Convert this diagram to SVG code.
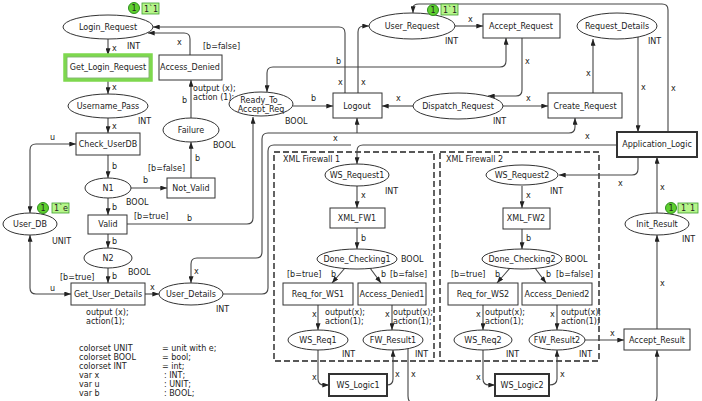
<svg xmlns="http://www.w3.org/2000/svg" width="702" height="401" viewBox="0 0 702 401">
<style>
text{font-family:"DejaVu Sans","Liberation Sans",sans-serif;font-size:8px;fill:#222}
.n{text-anchor:middle}
.pl,.tr{fill:#fff;stroke:#333;stroke-width:1}
.thick{stroke-width:2}
.a{fill:none;stroke:#444;stroke-width:1.1;marker-end:url(#ah)}
.d{fill:none;stroke:#444;stroke-width:1.1;marker-end:url(#ah);marker-start:url(#as)}
.l{fill:none;stroke:#444;stroke-width:1.1}
.box{fill:none;stroke:#222;stroke-width:1.4;stroke-dasharray:6,3}
.tc{fill:#5fcf2f;stroke:#2f8f1f;stroke-width:1}
.tb{fill:#b6f58a;stroke:#3f9f2f;stroke-width:0.8}
</style>
<defs>
<marker id="ah" viewBox="0 0 8 6" refX="8" refY="3" markerWidth="7" markerHeight="5" markerUnits="userSpaceOnUse" orient="auto"><path d="M0,0L8,3L0,6z" fill="#222"/></marker>
<marker id="as" viewBox="0 0 8 6" refX="8" refY="3" markerWidth="7" markerHeight="5" markerUnits="userSpaceOnUse" orient="auto-start-reverse"><path d="M0,0L8,3L0,6z" fill="#222"/></marker>
</defs>
<rect width="702" height="401" fill="#fff"/>

<g id="firewall1"><rect class="box" x="274" y="152" width="160" height="209"/><text x="283" y="162">XML Firewall 1</text></g>
<g id="firewall2"><rect class="box" x="440" y="152" width="159" height="209"/><text x="446" y="162">XML Firewall 2</text></g>

<g id="connectors">
<path class="a" d="M108,39V55"/><text x="112" y="51">x</text>
<path class="a" d="M108,80V94"/><text x="112" y="90">x</text>
<path class="a" d="M108,118V133"/><text x="112" y="129">x</text>
<path class="a" d="M108,155V178"/><text x="112" y="169">b</text>
<path class="a" d="M131,188H167"/><text x="143" y="183">b</text>
<path class="a" d="M108,198V215"/><text x="112" y="210">b</text>
<path class="a" d="M108,234V248"/><text x="112" y="244">b</text>
<path class="a" d="M108,268V283"/><text x="112" y="279">b</text>
<path class="a" d="M191,178V142"/><text x="195" y="161">b</text>
<path class="a" d="M191,118V80"/><text x="182" y="103">b</text>
<path class="a" d="M190,55V39Q190,33 184,33H148"/><text x="177" y="45">x</text>
<path class="a" d="M345,93V33Q345,27 339,27H153"/><text x="338" y="85">x</text>
<path class="a" d="M358,93V32Q358,26 364,26H369"/><text x="361" y="85">x</text>
<path class="d" d="M267,92V73Q267,67 273,67H500Q506,67 506,61V38"/><text x="336" y="64">b</text>
<path class="a" d="M293,106H333"/><text x="311" y="101">b</text>
<path class="a" d="M127,224H247Q253,224 253,218V117"/><text x="187" y="221">b</text>
<path class="a" d="M413,106H382"/><text x="396" y="101">x</text>
<path class="a" d="M503,106H548"/><text x="526" y="101">x</text>
<path class="a" d="M522,38V90Q522,96 516,96H488"/><text x="525" y="64">x</text>
<path class="a" d="M455,26H483"/><text x="468" y="22">x</text>
<path class="a" d="M593,93V39"/><text x="586" y="76">x</text>
<path class="a" d="M638,37V132"/><text x="641" y="90">x</text>
<path class="a" d="M668,132V10Q668,4 662,4H419Q413,4 413,8V13"/><text x="671" y="91">x</text>
<path class="a" d="M657,213V157"/><text x="660" y="190">x</text>
<path class="a" d="M638,157V169Q638,175 632,175H559"/><text x="618" y="186">x</text>
<path class="a" d="M657,329V235"/><text x="660" y="286">x</text>
<path class="a" d="M585,340H624"/><text x="610" y="336">x</text>
<path class="a" d="M408,348V396Q408,404 416,404H649Q657,404 657,396V350"/><text x="411" y="377">x</text>
<path class="d" d="M30,213V150Q30,144 36,144H76"/><text x="50" y="140">u</text>
<path class="d" d="M30,235V288Q30,294 36,294H71"/><text x="50" y="291">u</text>
<path class="a" d="M145,294H159"/><text x="150" y="290">x</text>
<path class="d" d="M575,118V127Q575,133 569,133H268Q262,133 262,139V252Q262,258 256,258H197Q191,258 191,264V283"/><text x="194" y="274">x</text>
<path class="a" d="M357,133V118"/><text x="333" y="141">x</text>
<path class="l" d="M223,294H262Q268,294 268,288V151Q268,145 274,145H351"/>
<path class="a" d="M617,145H363Q357,145 357,151V164"/><text x="585" y="139">x</text>
<path class="a" d="M357,186V208"/><text x="361" y="198">x</text>
<path class="a" d="M357,228V249"/><text x="361" y="241">b</text>
<path class="a" d="M345,268L332,283"/><text x="331" y="277">b</text>
<path class="a" d="M370,268L381,283"/><text x="381" y="277">b</text>
<path class="a" d="M318,305V330"/><text x="312" y="317">x</text>
<path class="a" d="M392,305V330"/><text x="385" y="317">x</text>
<path class="a" d="M318,350V379Q318,385 324,385H329"/><text x="312" y="380">x</text>
<path class="a" d="M387,385Q393,385 393,379V350"/><text x="395" y="377">x</text>
<path class="a" d="M522,186V208"/><text x="526" y="198">x</text>
<path class="a" d="M522,229V249"/><text x="526" y="241">b</text>
<path class="a" d="M510,268L497,283"/><text x="495" y="277">b</text>
<path class="a" d="M535,268L546,283"/><text x="546" y="277">b</text>
<path class="a" d="M483,305V330"/><text x="476" y="317">x</text>
<path class="a" d="M557,305V330"/><text x="550" y="317">x</text>
<path class="a" d="M483,350V379Q483,385 489,385H495"/><text x="476" y="380">x</text>
<path class="a" d="M549,385Q557,385 557,379V350"/><text x="560" y="377">x</text>
</g>

<g id="Login_Request"><ellipse class="pl" cx="108" cy="27" rx="45" ry="12"/><text class="n" x="108" y="30">Login_Request</text><text x="127" y="49">INT</text>
<circle class="tc" cx="134" cy="8" r="5.5"/><text class="n" x="134" y="11">1</text><rect class="tb" x="142" y="3" width="17" height="11"/><text x="144" y="12">1`1</text></g>
<g id="Get_Login_Request"><rect x="65" y="55" width="86" height="25" fill="#fff" stroke="#7ed84e" stroke-width="3.5"/><rect x="67" y="57" width="82" height="21" fill="none" stroke="#3c8c22" stroke-width="0.6"/><text class="n" x="108" y="70">Get_Login_Request</text></g>
<g id="Access_Denied"><rect class="tr" x="159" y="55" width="63" height="25"/><text class="n" x="190" y="70">Access_Denied</text><text x="203" y="49">[b=false]</text><text x="193" y="91">output (x);</text><text x="193" y="100">action (1);</text></g>
<g id="Username_Pass"><ellipse class="pl" cx="108" cy="106" rx="40" ry="12"/><text class="n" x="108" y="109">Username_Pass</text><text x="138" y="124">INT</text></g>
<g id="Failure"><ellipse class="pl" cx="191" cy="130" rx="28" ry="12"/><text class="n" x="191" y="133">Failure</text><text x="213" y="148">BOOL</text></g>
<g id="Check_UserDB"><rect class="tr" x="76" y="133" width="64" height="22"/><text class="n" x="108" y="147">Check_UserDB</text></g>
<g id="N1"><ellipse class="pl" cx="108" cy="188" rx="23" ry="10"/><text class="n" x="108" y="191">N1</text><text x="126" y="205">BOOL</text></g>
<g id="Not_Valid"><rect class="tr" x="167" y="178" width="48" height="20"/><text class="n" x="191" y="191">Not_Valid</text><text x="148" y="171">[b=false]</text></g>
<g id="Valid"><rect class="tr" x="88" y="215" width="39" height="19"/><text class="n" x="108" y="227">Valid</text><text x="134" y="219">[b=true]</text></g>
<g id="User_DB"><ellipse class="pl" cx="30" cy="224" rx="27" ry="11"/><text class="n" x="30" y="227">User_DB</text><text x="52" y="244">UNIT</text>
<circle class="tc" cx="43" cy="208" r="5.5"/><text class="n" x="43" y="211">1</text><rect class="tb" x="52" y="203" width="17" height="10"/><text x="54" y="211">1`e</text></g>
<g id="N2"><ellipse class="pl" cx="108" cy="258" rx="24" ry="10"/><text class="n" x="108" y="261">N2</text><text x="128" y="275">BOOL</text></g>
<g id="Get_User_Details"><rect class="tr" x="71" y="283" width="74" height="22"/><text class="n" x="108" y="297">Get_User_Details</text><text x="60" y="280">[b=true]</text><text x="86" y="315">output (x);</text><text x="86" y="324">action(1);</text></g>
<g id="User_Details"><ellipse class="pl" cx="191" cy="294" rx="32" ry="11"/><text class="n" x="191" y="297">User_Details</text><text x="216" y="312">INT</text></g>
<g id="Ready_To_Accept_Req"><ellipse class="pl" cx="261" cy="104" rx="32" ry="12"/><text class="n" x="261" y="103">Ready_To_</text><text class="n" x="261" y="112">Accept_Req</text><text x="285" y="124">BOOL</text></g>
<g id="Logout"><rect class="tr" x="333" y="93" width="49" height="25"/><text class="n" x="357" y="109">Logout</text></g>
<g id="User_Request"><ellipse class="pl" cx="412" cy="26" rx="43" ry="13"/><text class="n" x="412" y="29">User_Request</text><text x="445" y="44">INT</text>
<circle class="tc" cx="433" cy="10" r="5.5"/><text class="n" x="433" y="13">1</text><rect class="tb" x="441" y="4" width="17" height="11"/><text x="443" y="13">1`1</text></g>
<g id="Accept_Request"><rect class="tr" x="483" y="14" width="77" height="24"/><text class="n" x="521" y="29">Accept_Request</text></g>
<g id="Request_Details"><ellipse class="pl" cx="617" cy="26" rx="40" ry="13"/><text class="n" x="617" y="29">Request_Details</text><text x="648" y="44">INT</text></g>
<g id="Dispatch_Request"><ellipse class="pl" cx="458" cy="106" rx="45" ry="13"/><text class="n" x="458" y="109">Dispatch_Request</text><text x="493" y="124">INT</text></g>
<g id="Create_Request"><rect class="tr" x="548" y="93" width="74" height="25"/><text class="n" x="585" y="109">Create_Request</text></g>
<g id="Application_Logic"><rect class="tr thick" x="617" y="132" width="80" height="25"/><text class="n" x="657" y="147">Application_Logic</text></g>
<g id="Init_Result"><ellipse class="pl" cx="657" cy="224" rx="32" ry="11"/><text class="n" x="657" y="227">Init_Result</text><text x="682" y="242">INT</text>
<circle class="tc" cx="671" cy="208" r="5.5"/><text class="n" x="671" y="211">1</text><rect class="tb" x="678" y="203" width="20" height="10"/><text x="681" y="211">1`1</text></g>
<g id="Accept_Result"><rect class="tr" x="624" y="329" width="66" height="21"/><text class="n" x="657" y="343">Accept_Result</text></g>

<g id="WS_Request1"><ellipse class="pl" cx="357" cy="175" rx="32" ry="11"/><text class="n" x="357" y="178">WS_Request1</text><text x="385" y="194">INT</text></g>
<g id="XML_FW1"><rect class="tr" x="330" y="208" width="55" height="20"/><text class="n" x="357" y="221">XML_FW1</text></g>
<g id="Done_Checking1"><ellipse class="pl" cx="357" cy="259" rx="40" ry="10"/><text class="n" x="357" y="262">Done_Checking1</text><text x="401" y="262">BOOL</text></g>
<g id="Req_for_WS1"><rect class="tr" x="283" y="283" width="70" height="22"/><text class="n" x="318" y="297">Req_for_WS1</text><text x="287" y="277">[b=true]</text><text x="325" y="315">output(x);</text><text x="325" y="324">action(1);</text></g>
<g id="Access_Denied1"><rect class="tr" x="358" y="283" width="68" height="22"/><text class="n" x="392" y="297">Access_Denied1</text><text x="390" y="277">[b=false]</text><text x="393" y="315">output(x);</text><text x="393" y="324">action(1);</text></g>
<g id="WS_Req1"><ellipse class="pl" cx="318" cy="340" rx="30" ry="10"/><text class="n" x="318" y="343">WS_Req1</text><text x="342" y="357">INT</text></g>
<g id="FW_Result1"><ellipse class="pl" cx="393" cy="340" rx="30" ry="10"/><text class="n" x="393" y="343">FW_Result1</text><text x="415" y="357">INT</text></g>
<g id="WS_Logic1"><rect class="tr thick" x="329" y="374" width="58" height="22"/><text class="n" x="358" y="388">WS_Logic1</text></g>

<g id="WS_Request2"><ellipse class="pl" cx="522" cy="175" rx="36" ry="10"/><text class="n" x="522" y="178">WS_Request2</text><text x="550" y="194">INT</text></g>
<g id="XML_FW2"><rect class="tr" x="503" y="208" width="47" height="21"/><text class="n" x="526" y="221">XML_FW2</text></g>
<g id="Done_Checking2"><ellipse class="pl" cx="522" cy="259" rx="40" ry="10"/><text class="n" x="522" y="262">Done_Checking2</text><text x="565" y="262">BOOL</text></g>
<g id="Req_for_WS2"><rect class="tr" x="448" y="283" width="70" height="22"/><text class="n" x="483" y="297">Req_for_WS2</text><text x="451" y="277">[b=true]</text><text x="485" y="315">output(x);</text><text x="485" y="324">action(1);</text></g>
<g id="Access_Denied2"><rect class="tr" x="522" y="283" width="70" height="22"/><text class="n" x="557" y="297">Access_Denied2</text><text x="556" y="277">[b=false]</text><text x="561" y="315">output(x);</text><text x="561" y="324">action(1);</text></g>
<g id="WS_Req2"><ellipse class="pl" cx="483" cy="340" rx="29" ry="10"/><text class="n" x="483" y="343">WS_Req2</text><text x="506" y="357">INT</text></g>
<g id="FW_Result2"><ellipse class="pl" cx="557" cy="340" rx="28" ry="10"/><text class="n" x="557" y="343">FW_Result2</text><text x="579" y="357">INT</text></g>
<g id="WS_Logic2"><rect class="tr thick" x="495" y="374" width="54" height="22"/><text class="n" x="522" y="388">WS_Logic2</text></g>

<g id="declarations">
<text x="79" y="351">colorset UNIT</text><text x="162" y="351">= unit with e;</text>
<text x="79" y="360">colorset BOOL</text><text x="162" y="360">= bool;</text>
<text x="79" y="369">colorset INT</text><text x="162" y="369">= int;</text>
<text x="79" y="378">var x</text><text x="164" y="378">: INT;</text>
<text x="79" y="387">var u</text><text x="164" y="387">: UNIT;</text>
<text x="79" y="396">var b</text><text x="164" y="396">: BOOL;</text>
</g>
</svg>
